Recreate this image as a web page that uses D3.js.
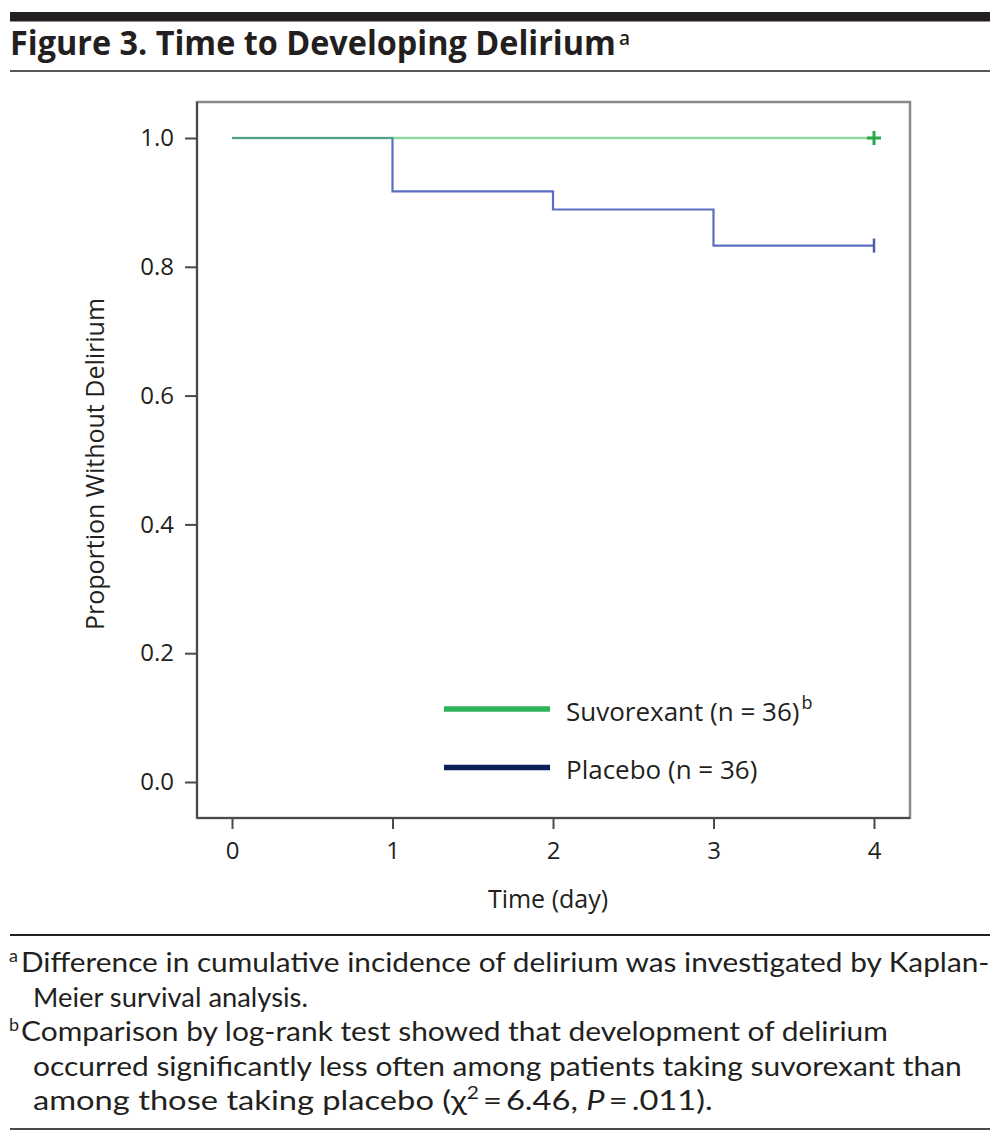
<!DOCTYPE html>
<html>
<head>
<meta charset="utf-8">
<script src="https://cdn.jsdelivr.net/npm/d3@7"></script>
<style>
  body { margin: 0; background: #fff; }
  svg { display: block; }
  text { font-family: "Open Sans", "Noto Sans", sans-serif; fill: #231f20; }
  .foot text { font-family: Lato, "Open Sans", sans-serif; }
</style>
</head>
<body>
<div id="chart"></div>
<script>
// data
const days = [0, 1, 2, 3, 4];
const suvorexant = [1.0, 1.0, 1.0, 1.0, 1.0];
const placebo = [1.0, 0.917, 0.889, 0.833, 0.833];
const yTicks = [0.0, 0.2, 0.4, 0.6, 0.8, 1.0];
const xTicks = [0, 1, 2, 3, 4];
const seriesNames = ["Suvorexant (n = 36)", "Placebo (n = 36)"];
const seriesSup = ["b", ""];
const footnotes = [
  { sup: "a", text: "Difference in cumulative incidence of delirium was investigated by Kaplan-" },
  { sup: "", text: "Meier survival analysis." },
  { sup: "b", text: "Comparison by log-rank test showed that development of delirium" },
  { sup: "", text: "occurred significantly less often among patients taking suvorexant than" }
];

let width = 1002, height = 1137;
let svg = d3.select("#chart").append("svg").attr("width", width).attr("height", height);
svg.append("rect").attr("width", width).attr("height", height).attr("fill", "#fff");

// squeeze a text group to a given width (the original is set in a condensed face)
function fitWidth(g, target) {
  let w = g.node().getBBox().width;
  let k = target / w;
  let t = g.attr("transform") || "";
  g.attr("transform", t + " scale(" + k + ",1)");
}

// header rules and title
svg.append("rect").attr("x", 10).attr("y", 12).attr("width", 980).attr("height", 9.5).attr("fill", "#231f20");
let title = svg.append("g").attr("transform", "translate(10,55)");
title.append("text").attr("font-size", 34).attr("font-weight", 700).text("Figure 3. Time to Developing Delirium");
fitWidth(title, 606);
svg.append("text").attr("x", 619).attr("y", 45).attr("font-size", 19).attr("font-weight", 600).text("a");
svg.append("line").attr("x1", 10).attr("x2", 990).attr("y1", 71).attr("y2", 71).attr("stroke", "#231f20").attr("stroke-width", 1.6);

// plot area
let x = d3.scaleLinear().domain([0, 4]).range([232, 874]);
let y = d3.scaleLinear().domain([0, 1]).range([782, 138]);
let frame = { left: 197, right: 910, top: 102, bottom: 818 };

svg.append("rect")
  .attr("x", frame.left).attr("y", frame.top)
  .attr("width", frame.right - frame.left).attr("height", frame.bottom - frame.top)
  .attr("fill", "none").attr("stroke", "#8a8a8a").attr("stroke-width", 2.5);

// left and bottom axes, ticks outside
let yAxis = d3.axisLeft(y).tickValues(yTicks).tickFormat(d3.format(".1f")).tickSize(12).tickPadding(11);
let gy = svg.append("g").attr("transform", "translate(" + frame.left + ",0)").call(yAxis);
gy.select(".domain").attr("d", "M0," + frame.top + "V" + frame.bottom);

let xAxis = d3.axisBottom(x).tickValues(xTicks).tickFormat(d3.format("d")).tickSize(11).tickPadding(13);
let gx = svg.append("g").attr("transform", "translate(0," + frame.bottom + ")").call(xAxis);
gx.select(".domain").attr("d", "M" + frame.left + ",0H" + frame.right);

svg.selectAll(".tick line, .domain").attr("stroke", "#4a4a4a").attr("stroke-width", 2);
svg.selectAll(".tick text").attr("font-size", 24).attr("font-family", "Open Sans").attr("fill", "#231f20");

// axis titles
svg.append("text").attr("x", 548).attr("y", 908).attr("text-anchor", "middle").attr("font-size", 25).text("Time (day)");
svg.append("text").attr("transform", "translate(104,464) rotate(-90)").attr("text-anchor", "middle")
  .attr("font-size", 25).text("Proportion Without Delirium");

// survival curves
let step = d3.line().curve(d3.curveStepAfter).x(d => x(d[0])).y(d => y(d[1]));
let placeboPts = days.map((d, i) => [d, placebo[i]]);
let suvoPts = days.map((d, i) => [d, suvorexant[i]]);

svg.append("path").datum(placeboPts).attr("d", step).attr("fill", "none")
  .attr("stroke", "#5b6ec0").attr("stroke-width", 2.2);
svg.append("path").datum(suvoPts).attr("d", step).attr("fill", "none")
  .attr("stroke", "#4cc066").attr("stroke-opacity", 0.62).attr("stroke-width", 2.6);

// censor marks at the last day
let last = days.length - 1;
let cx = x(days[last]);
svg.append("line").attr("x1", cx - 7).attr("x2", cx + 7).attr("y1", y(suvorexant[last])).attr("y2", y(suvorexant[last]))
  .attr("stroke", "#2aa84a").attr("stroke-width", 3);
svg.append("line").attr("x1", cx).attr("x2", cx).attr("y1", y(suvorexant[last]) - 7).attr("y2", y(suvorexant[last]) + 7)
  .attr("stroke", "#2aa84a").attr("stroke-width", 3);
svg.append("line").attr("x1", cx).attr("x2", cx).attr("y1", y(placebo[last]) - 7).attr("y2", y(placebo[last]) + 7)
  .attr("stroke", "#4a5cae").attr("stroke-width", 2.5);

// legend
let legendColors = ["#2db35a", "#0c1f5b"];
let legend = svg.selectAll("g.legend").data(seriesNames).enter().append("g")
  .attr("class", "legend")
  .attr("transform", (d, i) => "translate(444," + (709 + i * 58.5) + ")");
legend.append("line").attr("x1", 0).attr("x2", 106).attr("y1", 0).attr("y2", 0)
  .attr("stroke", (d, i) => legendColors[i]).attr("stroke-width", 5.5);
legend.append("text").attr("x", 122).attr("y", 11.5).attr("font-size", 26).text(d => d);
legend.each(function (d, i) {
  if (!seriesSup[i]) return;
  let g = d3.select(this);
  let w = g.select("text").node().getComputedTextLength();
  g.append("text").attr("x", 122 + w + 2).attr("y", 0).attr("font-size", 18).text(seriesSup[i]);
});

// footnotes
let foot = svg.append("g").attr("class", "foot");
foot.append("line").attr("x1", 10).attr("x2", 990).attr("y1", 935).attr("y2", 935).attr("stroke", "#231f20").attr("stroke-width", 2);
let lineEnds = [990, 308, 888, 962];
footnotes.forEach((f, i) => {
  let bx = f.sup ? 21 : 33;
  let by = 972 + i * 34.5;
  if (f.sup) {
    foot.append("text").attr("x", 9).attr("y", by - 10).attr("font-size", 18).text(f.sup);
  }
  let g = foot.append("g").attr("transform", "translate(" + bx + "," + by + ")");
  g.append("text").attr("font-size", 26.5).text(f.text);
  fitWidth(g, lineEnds[i] - bx);
});

// last footnote line with chi-square and italic P
let g5 = foot.append("g").attr("transform", "translate(33," + (972 + 4 * 34.5) + ")");
let t5 = g5.append("text").attr("font-size", 26.5);
t5.append("tspan").text("among those taking placebo (\u03c7");
t5.append("tspan").attr("font-size", 17).attr("dy", -11).text("2");
t5.append("tspan").attr("dy", 11).text("\u2009=\u20096.46, ");
t5.append("tspan").attr("font-style", "italic").text("P");
t5.append("tspan").text("\u2009=\u2009.011).");
fitWidth(g5, 713 - 33);

foot.append("line").attr("x1", 10).attr("x2", 990).attr("y1", 1129).attr("y2", 1129).attr("stroke", "#4a4a4a").attr("stroke-width", 2);
</script>
</body>
</html>
